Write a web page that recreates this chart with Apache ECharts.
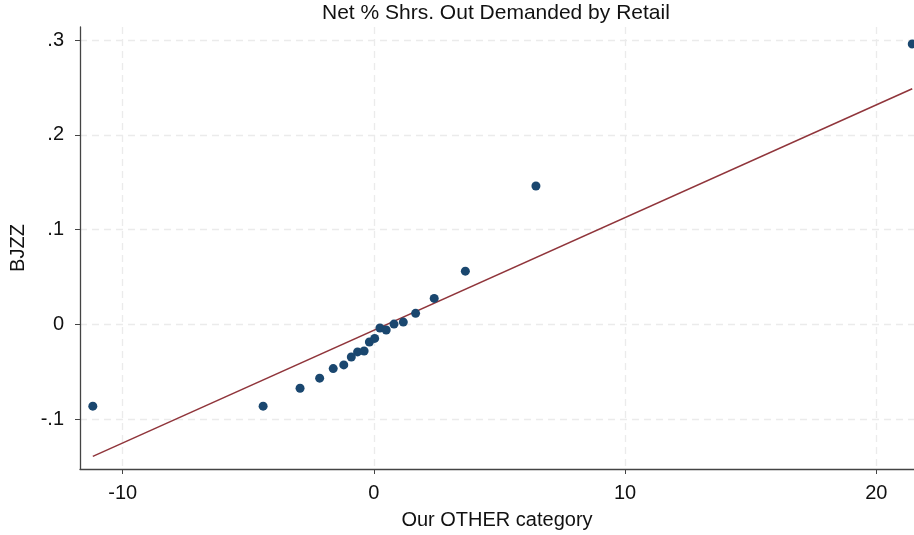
<!DOCTYPE html>
<html>
<head>
<meta charset="utf-8">
<script src="https://cdn.jsdelivr.net/npm/echarts@6/dist/echarts.min.js"></script>
<style>html,body{margin:0;padding:0;background:#fff;}#c{width:914px;height:535px;}</style>
</head>
<body>
<div id="c"></div>
<script>
const xValues = [-11.19, -4.41, -2.94, -2.16, -1.62, -1.20, -0.90, -0.65, -0.39, -0.18, 0.03, 0.24, 0.49, 0.80, 1.17, 1.66, 2.40, 3.64, 6.45, 21.43];
const yValues = [-0.0863, -0.0863, -0.0674, -0.0568, -0.0467, -0.0428, -0.0344, -0.0291, -0.0281, -0.0186, -0.0148, -0.0039, -0.0060, 0.0003, 0.0024, 0.0116, 0.0274, 0.0561, 0.146, 0.2958];
const fitX = [-11.19, 21.43];
const fitY = [-0.1393, 0.2486];
const xTicks = [-10, 0, 10, 20];
const yTicks = [-0.1, 0, 0.1, 0.2, 0.3];
const yTickLabels = ['-.1', '0', '.1', '.2', '.3'];

const font = 'Liberation Sans, Arial, sans-serif';
const chart = echarts.init(document.getElementById('c'));
chart.setOption({
  animation: false,
  title: {
    text: 'Net % Shrs. Out Demanded by Retail',
    left: 322, top: 3, padding: 0,
    textStyle: {fontFamily: font, fontSize: 21, fontWeight: 'normal', color: '#111'}
  },
  grid: {left: 80, right: 0, top: 27, bottom: 65, containLabel: false},
  xAxis: {
    type: 'value', min: -11.7, max: 21.5,
    name: 'Our OTHER category', nameLocation: 'middle', nameGap: 41,
    nameTextStyle: {fontFamily: font, fontSize: 20, color: '#111'},
    axisLine: {show: true, onZero: false, lineStyle: {color: '#444', width: 1.3}},
    axisTick: {show: true, length: 5, lineStyle: {color: '#444'}, customValues: xTicks},
    axisLabel: {fontFamily: font, fontSize: 20, color: '#111', margin: 14, customValues: xTicks,
      formatter: v => String(v)},
    splitLine: {show: true, lineStyle: {color: '#ebebeb', type: [7, 5], width: 1.3}}
  },
  yAxis: {
    type: 'value', min: -0.1526, max: 0.3137,
    name: 'BJZZ', nameLocation: 'middle', nameGap: 52,
    nameTextStyle: {fontFamily: font, fontSize: 20, color: '#111'},
    axisLine: {show: true, onZero: false, lineStyle: {color: '#444', width: 1.3}},
    axisTick: {show: true, length: 5, lineStyle: {color: '#444'}, customValues: yTicks},
    axisLabel: {fontFamily: font, fontSize: 20, color: '#111', margin: 16, customValues: yTicks,
      formatter: v => { const i = yTicks.findIndex(t => Math.abs(t - v) < 1e-9); return i >= 0 ? yTickLabels[i] : ''; }},
    splitLine: {show: true, lineStyle: {color: '#ebebeb', type: [7, 5], width: 1.3}}
  },
  series: [
    {
      type: 'line', data: fitX.map((x, i) => [x, fitY[i]]),
      showSymbol: false, lineStyle: {color: '#90353b', width: 1.5}, z: 2
    },
    {
      type: 'scatter', data: xValues.map((x, i) => [x, yValues[i]]),
      symbolSize: 9, itemStyle: {color: '#1a476f', opacity: 1}, z: 3
    }
  ]
});
</script>
</body>
</html>
